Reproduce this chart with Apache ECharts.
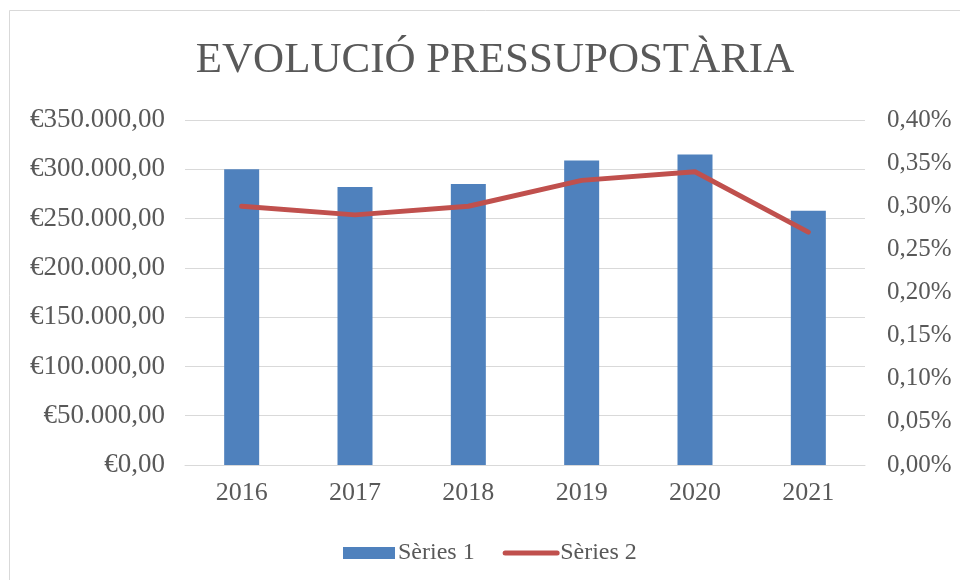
<!DOCTYPE html>
<html>
<head>
<meta charset="utf-8">
<script src="https://cdn.jsdelivr.net/npm/echarts@6/dist/echarts.min.js"></script>
<style>
  html, body { margin: 0; padding: 0; background: #fff; }
  #chart-root { width: 960px; height: 580px; }
</style>
</head>
<body>
<div id="chart-root"></div>
<script>
// dades del gràfic
var years = ["2016", "2017", "2018", "2019", "2020", "2021"];
var budget = [300000, 282000, 285000, 309000, 315000, 258000];   // Sèries 1 (€)
var ratio = [0.30, 0.29, 0.30, 0.33, 0.34, 0.27];                // Sèries 2 (%)

var txt = "#595959";
var font = "'Liberation Serif', 'DejaVu Serif', serif";

function euro(v) {
  var s = String(Math.round(v)).replace(/\B(?=(\d{3})+(?!\d))/g, ".");
  return "€" + s + ",00";
}

var chart = echarts.init(document.getElementById("chart-root"));

var option = {
  animation: false,
  backgroundColor: "#fff",
  textStyle: { fontFamily: font, color: txt },
  graphic: [
    {
      type: "rect",
      shape: { x: 9.5, y: 10.5, width: 1000, height: 1000 },
      style: { fill: "none", stroke: "#d9d9d9", lineWidth: 1 },
      silent: true
    }
  ],
  title: {
    text: "EVOLUCIÓ PRESSUPOSTÀRIA",
    left: 490,
    textAlign: "center",
    top: 34,
    textStyle: { fontFamily: font, fontSize: 43, fontWeight: "normal", color: txt }
  },
  grid: { left: 185, right: 95, top: 120, bottom: 115 },
  legend: {
    left: 338,
    top: 536,
    itemWidth: 52,
    itemHeight: 12,
    itemGap: 28,
    lineStyle: { width: 5, cap: "round" },
    textStyle: { fontFamily: font, fontSize: 24, color: txt, padding: [0, 0, 0, -2] },
    data: [
      { name: "Sèries 1", icon: "rect" },
      { name: "Sèries 2", itemStyle: { opacity: 0 } }
    ]
  },
  xAxis: {
    type: "category",
    data: years,
    axisLine: { lineStyle: { color: "#d9d9d9", width: 1 } },
    axisTick: { show: false },
    axisLabel: { fontFamily: font, fontSize: 26, color: txt, margin: 15 }
  },
  yAxis: [
    {
      type: "value",
      min: 0,
      max: 350000,
      interval: 50000,
      axisLine: { show: false },
      axisTick: { show: false },
      splitLine: { lineStyle: { color: "#d9d9d9", width: 1 } },
      axisLabel: { fontFamily: font, fontSize: 27, color: txt, margin: 20, formatter: euro }
    },
    {
      type: "value",
      min: 0,
      max: 0.40,
      interval: 0.05,
      position: "right",
      axisLine: { show: false },
      axisTick: { show: false },
      splitLine: { show: false },
      axisLabel: {
        fontFamily: font, fontSize: 25, color: txt, margin: 22,
        formatter: function (v) { return v.toFixed(2).replace(".", ",") + "%"; }
      }
    }
  ],
  series: [
    {
      name: "Sèries 1",
      type: "bar",
      data: budget,
      barWidth: 35,
      itemStyle: { color: "#4f81bd" }
    },
    {
      name: "Sèries 2",
      type: "line",
      yAxisIndex: 1,
      data: ratio,
      symbol: "none",
      lineStyle: { color: "#c0504d", width: 5, cap: "round", join: "round" },
      itemStyle: { color: "#c0504d" }
    }
  ]
};

chart.setOption(option);
</script>
</body>
</html>
